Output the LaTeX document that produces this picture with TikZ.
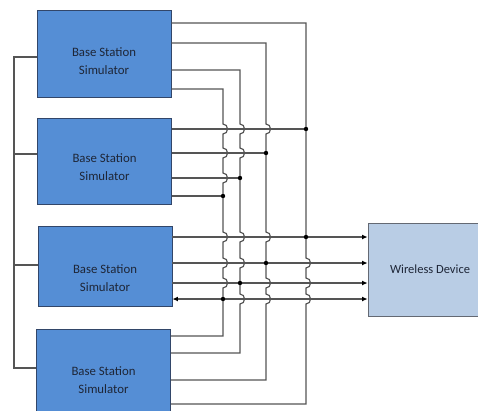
\documentclass[tikz,border=0pt]{standalone}
\usepackage{fontspec}
\setmainfont{Carlito}
\usetikzlibrary{arrows.meta,positioning}

\definecolor{bssblue}{RGB}{85,142,213}
\definecolor{bssedge}{RGB}{50,70,105}
\definecolor{devblue}{RGB}{185,205,229}
\definecolor{devedge}{RGB}{100,105,115}
\definecolor{wiregray}{RGB}{85,85,85}
\definecolor{txtdark}{RGB}{30,38,55}

\begin{document}
\begin{tikzpicture}[x=1pt,y=-1pt,
    bss/.style={draw=bssedge,fill=bssblue,line width=0.9pt,minimum width=134pt,inner sep=0pt},
    dev/.style={draw=devedge,fill=devblue,line width=0.9pt,minimum width=124pt,minimum height=93pt,
      text=txtdark,font=\fontsize{12.5}{18}\selectfont},
    bsstext/.style={align=center,text=txtdark,font=\fontsize{12.8}{18}\selectfont},
    wire/.style={draw=wiregray,line width=1.2pt},
    tip/.style={-{Latex[length=5.5pt,width=5pt,color=black]}}]
      % keep the size of the page
      \useasboundingbox (0,0) rectangle (478,410);

      % the four simulators and the device
      \node[bss,minimum height=87pt] (bs1) at (104,53.5) {};
      \node[bss,minimum height=86pt] (bs2) at (104.5,161) {};
      \node[bss,minimum height=80pt] (bs3) at (105,266) {};
      \node[bss,minimum height=83pt] (bs4) at (103.5,370.5) {};
      \node[dev] (dev) at (430,269.5) {Wireless Device};

      \node[bsstext] at ([yshift=-8pt]bs1.center) {Base Station\\Simulator};
      \node[bsstext] at ([yshift=-6pt]bs2.center) {Base Station\\Simulator};
      \node[bsstext] at ([yshift=-12pt]bs3.center) {Base Station\\Simulator};
      \node[bsstext] at ([yshift=-10pt]bs4.center) {Base Station\\Simulator};

      % common line on the left
      \coordinate (bus) at (14,0);
      \draw[wire] (bs1.west |- 0,57) -- (bus |- 0,57) -- (bus |- 0,368) -- (bs4.west |- 0,368);
      \draw[wire] (bus |- 0,154) -- (bs2.west |- 0,154);
      \draw[wire] (bus |- 0,265) -- (bs3.west |- 0,265);

      % lines of the third simulator go to the device
      \draw[wire,tip] (bs3.east |- 0,237) -- (dev.west |- 0,237);
      \draw[wire,tip] (bs3.east |- 0,263) -- (dev.west |- 0,263);
      \draw[wire,tip] (bs3.east |- 0,283) -- (dev.west |- 0,283);
      \draw[wire,{Latex[length=5.5pt,width=5pt,color=black]}-{Latex[length=5.5pt,width=5pt,color=black]}] (bs3.east |- 0,299) -- (dev.west |- 0,299);

      % lines of the second simulator end on the verticals
      \draw[wire] (bs2.east |- 0,129) -- (306,129);
      \draw[wire] (bs2.east |- 0,153) -- (266,153);
      \draw[wire] (bs2.east |- 0,178) -- (240,178);
      \draw[wire] (bs2.east |- 0,196) -- (223,196);

      % verticals from the first to the last simulator, hopping over crossings
      \draw[wire] (bs1.east |- 0,23) -- (306,23)
        \foreach \h in {263,283,299} { -- (306,\h-5) .. controls +(6,0) and +(6,0) .. (306,\h+5) }
        -- (306,404) -- (bs4.east |- 0,404);
      \draw[wire] (bs1.east |- 0,43) -- (266,43)
        \foreach \h in {129,237,283,299} { -- (266,\h-5) .. controls +(6,0) and +(6,0) .. (266,\h+5) }
        -- (266,380) -- (bs4.east |- 0,380);
      \draw[wire] (bs1.east |- 0,70) -- (240,70)
        \foreach \h in {129,153,237,263,299} { -- (240,\h-5) .. controls +(6,0) and +(6,0) .. (240,\h+5) }
        -- (240,353) -- (bs4.east |- 0,353);
      \draw[wire] (bs1.east |- 0,89) -- (223,89)
        \foreach \h in {129,153,178,237,263,283} { -- (223,\h-5) .. controls +(6,0) and +(6,0) .. (223,\h+5) }
        -- (223,336) -- (bs4.east |- 0,336);

      % junction dots
      \foreach \p in {(306,129),(266,153),(240,178),(223,196),(306,237),(266,263),(240,283),(223,299)}
        \fill \p circle (2.2pt);
    \end{tikzpicture}
\end{document}
